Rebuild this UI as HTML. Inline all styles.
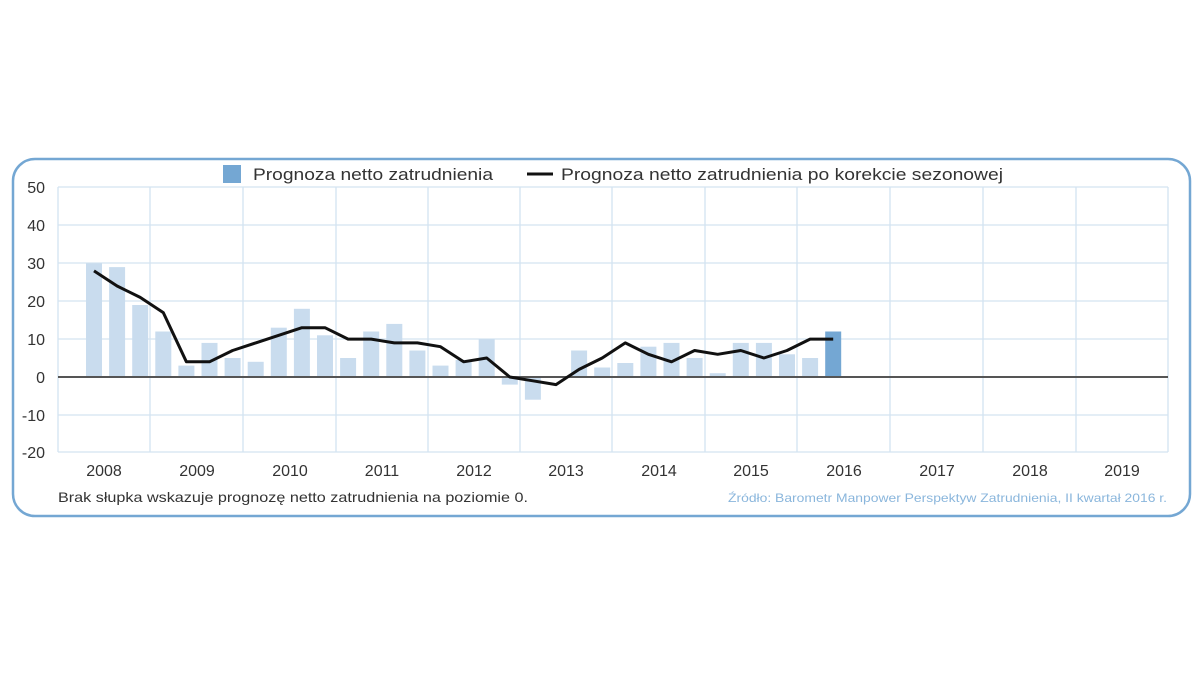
<!DOCTYPE html>
<html><head><meta charset="utf-8"><style>
html,body{margin:0;padding:0;background:#fff;}
svg{display:block;font-family:"Liberation Sans",sans-serif;}
</style></head><body>
<svg width="1200" height="675" viewBox="0 0 1200 675">
<rect x="13" y="159" width="1177" height="357" rx="22" fill="#fff" stroke="#74a7d3" stroke-width="2.5"/>
<g stroke="#d3e3f1" stroke-width="1.3">
<line x1="58" y1="187" x2="1168" y2="187"/><line x1="58" y1="225" x2="1168" y2="225"/>
<line x1="58" y1="263" x2="1168" y2="263"/><line x1="58" y1="301" x2="1168" y2="301"/>
<line x1="58" y1="339" x2="1168" y2="339"/><line x1="58" y1="415" x2="1168" y2="415"/>
<line x1="58" y1="452" x2="1168" y2="452"/>
<line x1="58" y1="187" x2="58" y2="452"/><line x1="150" y1="187" x2="150" y2="452"/>
<line x1="243" y1="187" x2="243" y2="452"/><line x1="336" y1="187" x2="336" y2="452"/>
<line x1="428" y1="187" x2="428" y2="452"/><line x1="520" y1="187" x2="520" y2="452"/>
<line x1="612" y1="187" x2="612" y2="452"/><line x1="705" y1="187" x2="705" y2="452"/>
<line x1="797" y1="187" x2="797" y2="452"/><line x1="890" y1="187" x2="890" y2="452"/>
<line x1="983" y1="187" x2="983" y2="452"/><line x1="1076" y1="187" x2="1076" y2="452"/>
<line x1="1168" y1="187" x2="1168" y2="452"/>
</g>
<g fill="#c9dcee">
<rect x="86" y="263.3" width="16" height="113.7"/>
<rect x="109.1" y="267.1" width="16" height="109.9"/>
<rect x="132.2" y="305" width="16" height="72"/>
<rect x="155.3" y="331.5" width="16" height="45.5"/>
<rect x="178.4" y="365.6" width="16" height="11.4"/>
<rect x="201.5" y="342.9" width="16" height="34.1"/>
<rect x="224.6" y="358" width="16" height="19"/>
<rect x="247.7" y="361.8" width="16" height="15.2"/>
<rect x="270.8" y="327.7" width="16" height="49.3"/>
<rect x="293.9" y="308.8" width="16" height="68.2"/>
<rect x="317" y="335.3" width="16" height="41.7"/>
<rect x="340.1" y="358" width="16" height="19"/>
<rect x="363.2" y="331.5" width="16" height="45.5"/>
<rect x="386.3" y="323.9" width="16" height="53.1"/>
<rect x="409.4" y="350.5" width="16" height="26.5"/>
<rect x="432.5" y="365.6" width="16" height="11.4"/>
<rect x="455.6" y="359.9" width="16" height="17.1"/>
<rect x="478.7" y="339.1" width="16" height="37.9"/>
<rect x="501.8" y="377" width="16" height="7.6"/>
<rect x="524.9" y="377" width="16" height="22.7"/>
<rect x="571.1" y="350.5" width="16" height="26.5"/>
<rect x="594.2" y="367.5" width="16" height="9.5"/>
<rect x="617.3" y="363" width="16" height="14"/>
<rect x="640.4" y="346.7" width="16" height="30.3"/>
<rect x="663.5" y="342.9" width="16" height="34.1"/>
<rect x="686.6" y="358" width="16" height="19"/>
<rect x="709.7" y="373.2" width="16" height="3.8"/>
<rect x="732.8" y="342.9" width="16" height="34.1"/>
<rect x="755.9" y="342.9" width="16" height="34.1"/>
<rect x="779" y="354.3" width="16" height="22.7"/>
<rect x="802.1" y="358" width="16" height="19"/>
<rect x="825.2" y="331.5" width="16" height="45.5" fill="#74a7d3"/>
</g>
<line x1="58" y1="377" x2="1168" y2="377" stroke="#555" stroke-width="2"/>
<polyline fill="none" stroke="#111" stroke-width="3" stroke-linejoin="round" points="94,270.9 117.1,286 140.2,297.4 163.3,312.6 186.4,361.8 209.5,361.8 232.6,350.5 255.7,342.9 278.8,335.3 301.9,327.7 325,327.7 348.1,339.1 371.2,339.1 394.3,342.9 417.4,342.9 440.5,346.7 463.6,361.8 486.7,358 509.8,377 532.9,380.8 556,384.6 579.1,369.4 602.2,358 625.3,342.9 648.4,354.3 671.5,361.8 694.6,350.5 717.7,354.3 740.8,350.5 763.9,358 787,350.5 810.1,339.1 833.2,339.1"/>
<g font-size="16" fill="#333" text-anchor="end">
<text x="45" y="193">50</text><text x="45" y="231">40</text><text x="45" y="269">30</text>
<text x="45" y="307">20</text><text x="45" y="345">10</text><text x="45" y="383">0</text>
<text x="45" y="421">-10</text><text x="45" y="458">-20</text>
</g>
<g font-size="16" fill="#333" text-anchor="middle">
<text x="104" y="476">2008</text><text x="197" y="476">2009</text><text x="290" y="476">2010</text>
<text x="382" y="476">2011</text><text x="474" y="476">2012</text><text x="566" y="476">2013</text>
<text x="659" y="476">2014</text><text x="751" y="476">2015</text><text x="844" y="476">2016</text>
<text x="937" y="476">2017</text><text x="1030" y="476">2018</text><text x="1122" y="476">2019</text>
</g>
<text x="58" y="502" font-size="14" fill="#333" textLength="470" lengthAdjust="spacingAndGlyphs">Brak słupka wskazuje prognozę netto zatrudnienia na poziomie 0.</text>
<text x="728" y="502" font-size="12" fill="#8ab6dc" textLength="439" lengthAdjust="spacingAndGlyphs">Źródło: Barometr Manpower Perspektyw Zatrudnienia, II kwartał 2016 r.</text>
<rect x="223" y="165" width="18" height="18" fill="#74a7d3"/>
<text x="253" y="180" font-size="17" fill="#333" textLength="240" lengthAdjust="spacingAndGlyphs">Prognoza netto zatrudnienia</text>
<line x1="527" y1="174" x2="553" y2="174" stroke="#111" stroke-width="3"/>
<text x="561" y="180" font-size="17" fill="#333" textLength="442" lengthAdjust="spacingAndGlyphs">Prognoza netto zatrudnienia po korekcie sezonowej</text>
</svg>
</body></html>
